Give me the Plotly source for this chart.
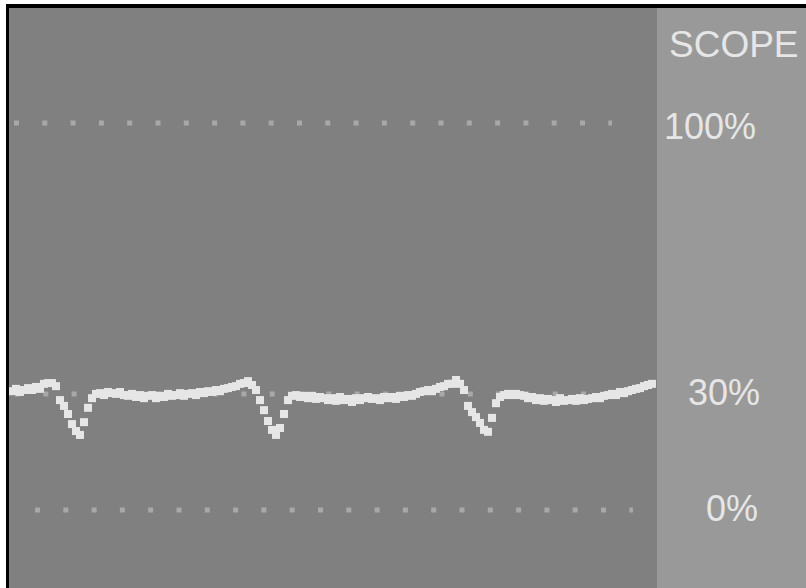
"""Oscilloscope-style trace with percent reference levels."""

import numpy as np
import plotly.graph_objects as go

# samples, in percent of full scale
scope_pct = [
    30.7, 31.3, 30.5, 31.0, 31.5, 31.0, 31.8, 31.3,
    32.6, 32.8, 32.8, 32.0,
    28.4, 26.9, 24.8, 22.2, 20.4, 19.4, 22.7, 26.4, 28.9, 30.0,
    30.2, 29.7, 30.5, 30.2, 30.0, 30.5, 29.7, 29.5, 30.0, 29.2,
    29.7, 28.9, 29.5, 29.7, 28.9, 29.5, 29.2, 30.0, 29.5, 29.7,
    30.2, 29.5, 30.0, 30.2, 29.7, 30.5, 30.2, 30.7, 30.5, 31.0,
    30.7, 31.3, 31.5, 31.8, 32.0, 32.6, 32.8, 33.3, 32.3, 31.0,
    28.4, 25.8, 23.0, 20.7, 19.4, 21.2, 24.8, 28.4, 29.5, 29.7,
    29.2, 29.5, 28.9, 29.5, 28.7, 29.2, 28.9, 28.4, 28.9, 28.2,
    29.2, 28.4, 28.7, 27.9, 28.9, 28.4, 28.9, 29.2, 28.7, 28.9,
    28.4, 29.2, 28.9, 29.2, 28.7, 29.5, 29.2, 29.7, 29.5, 30.0,
    30.5, 30.7, 31.0, 30.7, 31.3, 31.8, 32.0, 32.6, 32.6, 33.6,
    32.6, 31.0,
    26.9, 25.3, 24.0, 22.5, 20.7, 20.2, 23.8, 27.6, 29.2, 29.7,
    30.0, 29.7, 30.0, 29.7, 29.5, 28.9, 29.2, 28.4, 28.9, 28.2,
    28.7, 28.4, 27.9, 28.9, 28.2, 28.4, 28.7, 28.2, 28.9, 28.4,
    28.7, 28.9, 29.2, 28.9, 29.5, 29.7, 30.0, 29.7, 30.5, 30.2,
    30.7, 31.0, 31.3, 31.5, 32.0, 32.3, 32.6,
]
SAMPLE_START = 3.0
SAMPLE_STEP = 4.0
t = SAMPLE_START + SAMPLE_STEP * np.arange(len(scope_pct))

ref_levels = [100, 30, 0]
ref_labels = ["100%", "30%", "0%"]
title_text = "SCOPE"

W, H = 806, 588
L, R, T = 9, 149, 8
PW, PH = W - L - R, H - T


def px_x(px):
    return (px - L) / PW


def px_y(py):
    return (H - py) / PH


BG = "#808080"
PANEL = "#999999"
INK = "#e6e6e6"
DOT = "#a8a8a8"

fig = go.Figure()
fig.add_trace(
    go.Scatter(
        x=t,
        y=scope_pct,
        mode="markers",
        marker=dict(symbol="square", size=8, color=INK, line=dict(width=0)),
        hoverinfo="skip",
    )
)

# dotted reference lines: (start px, end px) of the dot rows
spans = {100: (14, 612), 30: (15, 612), 0: (35, 633)}
shapes = []
for lvl in ref_levels:
    x0, x1 = spans[lvl]
    shapes.append(dict(
        type="line", xref="x", yref="y", layer="below",
        x0=x0 - L, x1=x1 - L, y0=lvl, y1=lvl,
        line=dict(color=DOT, width=5, dash="5px,23.3px"),
    ))

# frame: white strip, black border
shapes += [
    dict(type="rect", xref="paper", yref="paper", layer="above",
         x0=px_x(0), x1=px_x(W), y0=px_y(4), y1=px_y(-2),
         fillcolor="white", line=dict(width=0)),
    dict(type="rect", xref="paper", yref="paper", layer="above",
         x0=px_x(-2), x1=px_x(6), y0=px_y(H + 2), y1=px_y(-2),
         fillcolor="white", line=dict(width=0)),
    dict(type="rect", xref="paper", yref="paper", layer="above",
         x0=px_x(6), x1=px_x(W + 2), y0=px_y(8), y1=px_y(4),
         fillcolor="black", line=dict(width=0)),
    dict(type="rect", xref="paper", yref="paper", layer="above",
         x0=px_x(6), x1=px_x(9), y0=px_y(H + 2), y1=px_y(4),
         fillcolor="black", line=dict(width=0)),
]

font = dict(family="Liberation Sans, Arial, sans-serif", color=INK)
label_right = {100: 758, 30: 762, 0: 760}
label_shift = {100: -3, 30: 1, 0: 2}
annotations = [
    dict(text=lab, xref="paper", yref="y", x=px_x(label_right[lvl]), y=lvl,
         xanchor="right", yanchor="middle", yshift=label_shift[lvl],
         showarrow=False, font=dict(size=36, **font))
    for lvl, lab in zip(ref_levels, ref_labels)
]
annotations.append(dict(
    text=title_text, xref="paper", yref="paper", x=px_x(801), y=px_y(44),
    xanchor="right", yanchor="middle", showarrow=False,
    font=dict(size=37, **font),
))

fig.update_layout(
    width=W,
    height=H,
    margin=dict(l=L, r=R, t=T, b=0, pad=0),
    paper_bgcolor=PANEL,
    plot_bgcolor=BG,
    showlegend=False,
    xaxis=dict(range=[0, PW], visible=False, fixedrange=True),
    yaxis=dict(range=[(510 - H) / 3.87, (510 - T) / 3.87], visible=False, fixedrange=True),
    shapes=shapes,
    annotations=annotations,
)

fig.write_html(
    "out.html",
    config={"displayModeBar": False},
    post_script="document.body.style.margin='0';document.body.style.overflow='hidden';",
)
